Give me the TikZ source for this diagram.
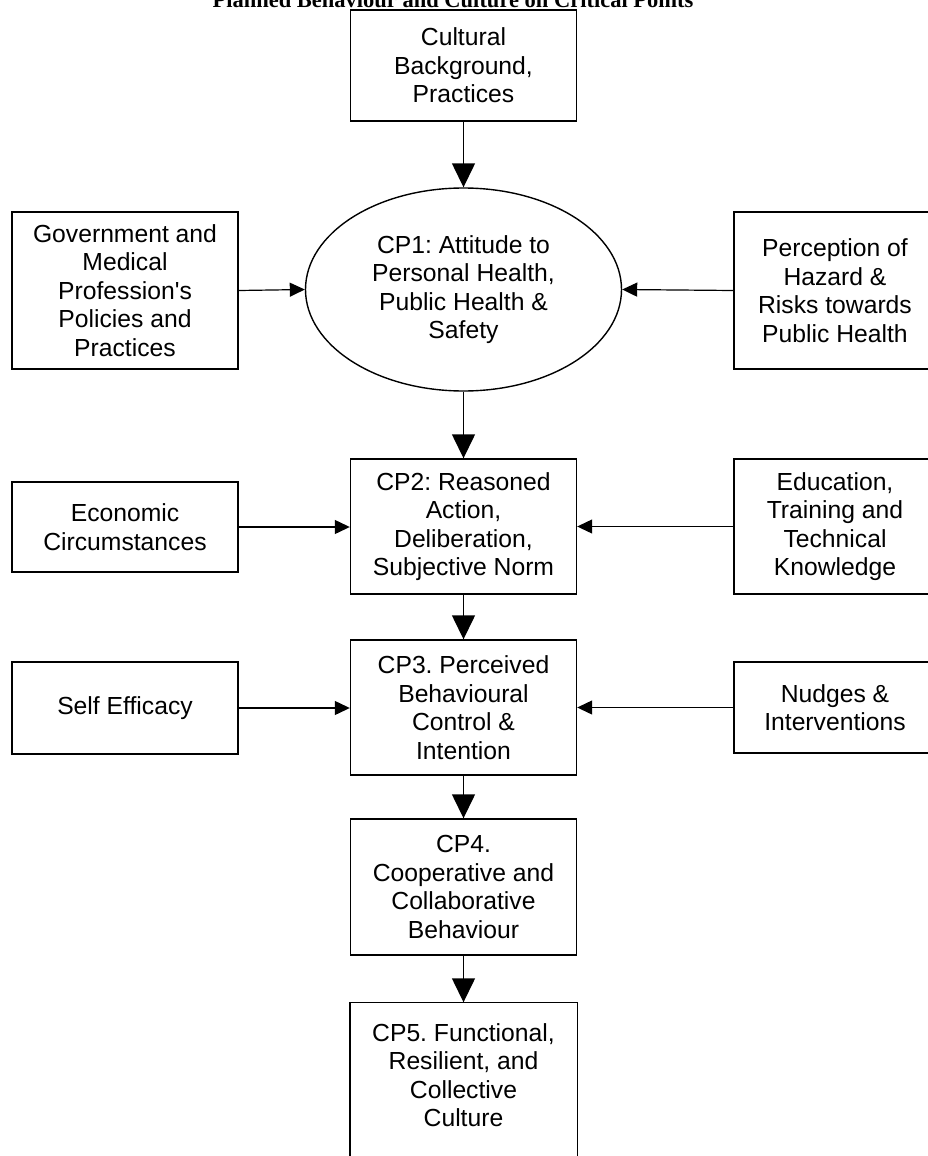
\documentclass[tikz,border=0pt]{standalone}
\usepackage{fontspec}
\setmainfont{Liberation Sans}[Ligatures=TeXOff]
\newfontfamily\titlefont{Liberation Serif}
\usetikzlibrary{arrows.meta,shapes.geometric}
\frenchspacing

\begin{document}
\begin{tikzpicture}[
    x=1pt, y=-1pt,
    box/.style={rectangle, draw, line width=1.4pt, minimum width=226pt, inner sep=0pt, align=center, font=\fontsize{24.7}{28.5}\selectfont},
    sidebox/.style={box, minimum width=202pt},
    oval/.style={ellipse, draw, line width=1.4pt, minimum width=316pt, minimum height=203pt, inner sep=0pt, align=center, font=\fontsize{24.7}{28.5}\selectfont},
    arrow/.style={-{Triangle[length=24pt,width=23pt]}, line width=1.4pt},
    sidearrow/.style={-{Triangle[length=15pt,width=14pt]}, line width=1.2pt}
]
    \useasboundingbox (0,0) rectangle (927,1156);

    \node[anchor=base, font=\titlefont\bfseries\fontsize{22.5}{27}\selectfont] (title) at (453,8) {Planned Behaviour and Culture on Critical Points};

    % middle column
    \node[box, minimum height=111pt] (cult) at (463.5,65.5) {Cultural\\Background,\\Practices};
    \node[oval] (cp1) at (463.5,289.5) {CP1: Attitude to\\Personal Health,\\Public Health \&\\Safety};
    \node[box, minimum height=135pt] (cp2) at (463.5,526.5) {CP2: Reasoned\\Action,\\Deliberation,\\Subjective Norm};
    \node[box, minimum height=135pt] (cp3) at (463.5,707.5) {CP3. Perceived\\Behavioural\\Control \&\\Intention};
    \node[box, minimum height=136pt] (cp4) at (463.5,887) {CP4.\\Cooperative and\\Collaborative\\Behaviour};
    \node[box, draw=none, minimum height=144pt] (cp5) at (463.5,1075) {CP5. Functional,\\Resilient, and\\Collective\\Culture};
    \draw[line width=1.4pt] ([yshift=-30pt]cp5.south west) -- (cp5.north west) -- (cp5.north east) -- ([yshift=-30pt]cp5.south east);

    % left column
    \node[box, minimum height=157pt] (gov) at (125,290.5) {Government and\\Medical\\Profession's\\Policies and\\Practices};
    \node[box, minimum height=90pt] (econ) at (125,527) {Economic\\Circumstances};
    \node[box, minimum height=92pt] (self) at (125,708) {Self Efficacy};

    % right column
    \node[sidebox, minimum height=157pt] (perc) at (835,290.5) {Perception of\\Hazard \&\\Risks towards\\Public Health};
    \node[sidebox, minimum height=135pt] (edu) at (835,526.5) {Education,\\Training and\\Technical\\Knowledge};
    \node[sidebox, minimum height=91pt] (nudge) at (835,707.5) {Nudges \&\\Interventions};

    \draw[arrow] (cult.south) -- (cp1.north);
    \draw[arrow] (cp1.south) -- (cp2.north);
    \draw[arrow] (cp2.south) -- (cp3.north);
    \draw[arrow] (cp3.south) -- (cp4.north);
    \draw[arrow] (cp4.south) -- (cp5.north);

    \draw[sidearrow] (gov.east) -- (cp1.west);
    \draw[sidearrow] (perc.west) -- (cp1.east);
    \draw[sidearrow] (econ.east) -- (econ.east -| cp2.west);
    \draw[sidearrow] (edu.west) -- (edu.west -| cp2.east);
    \draw[sidearrow] (self.east) -- (self.east -| cp3.west);
    \draw[sidearrow] (nudge.west) -- (nudge.west -| cp3.east);
\end{tikzpicture}
\end{document}
